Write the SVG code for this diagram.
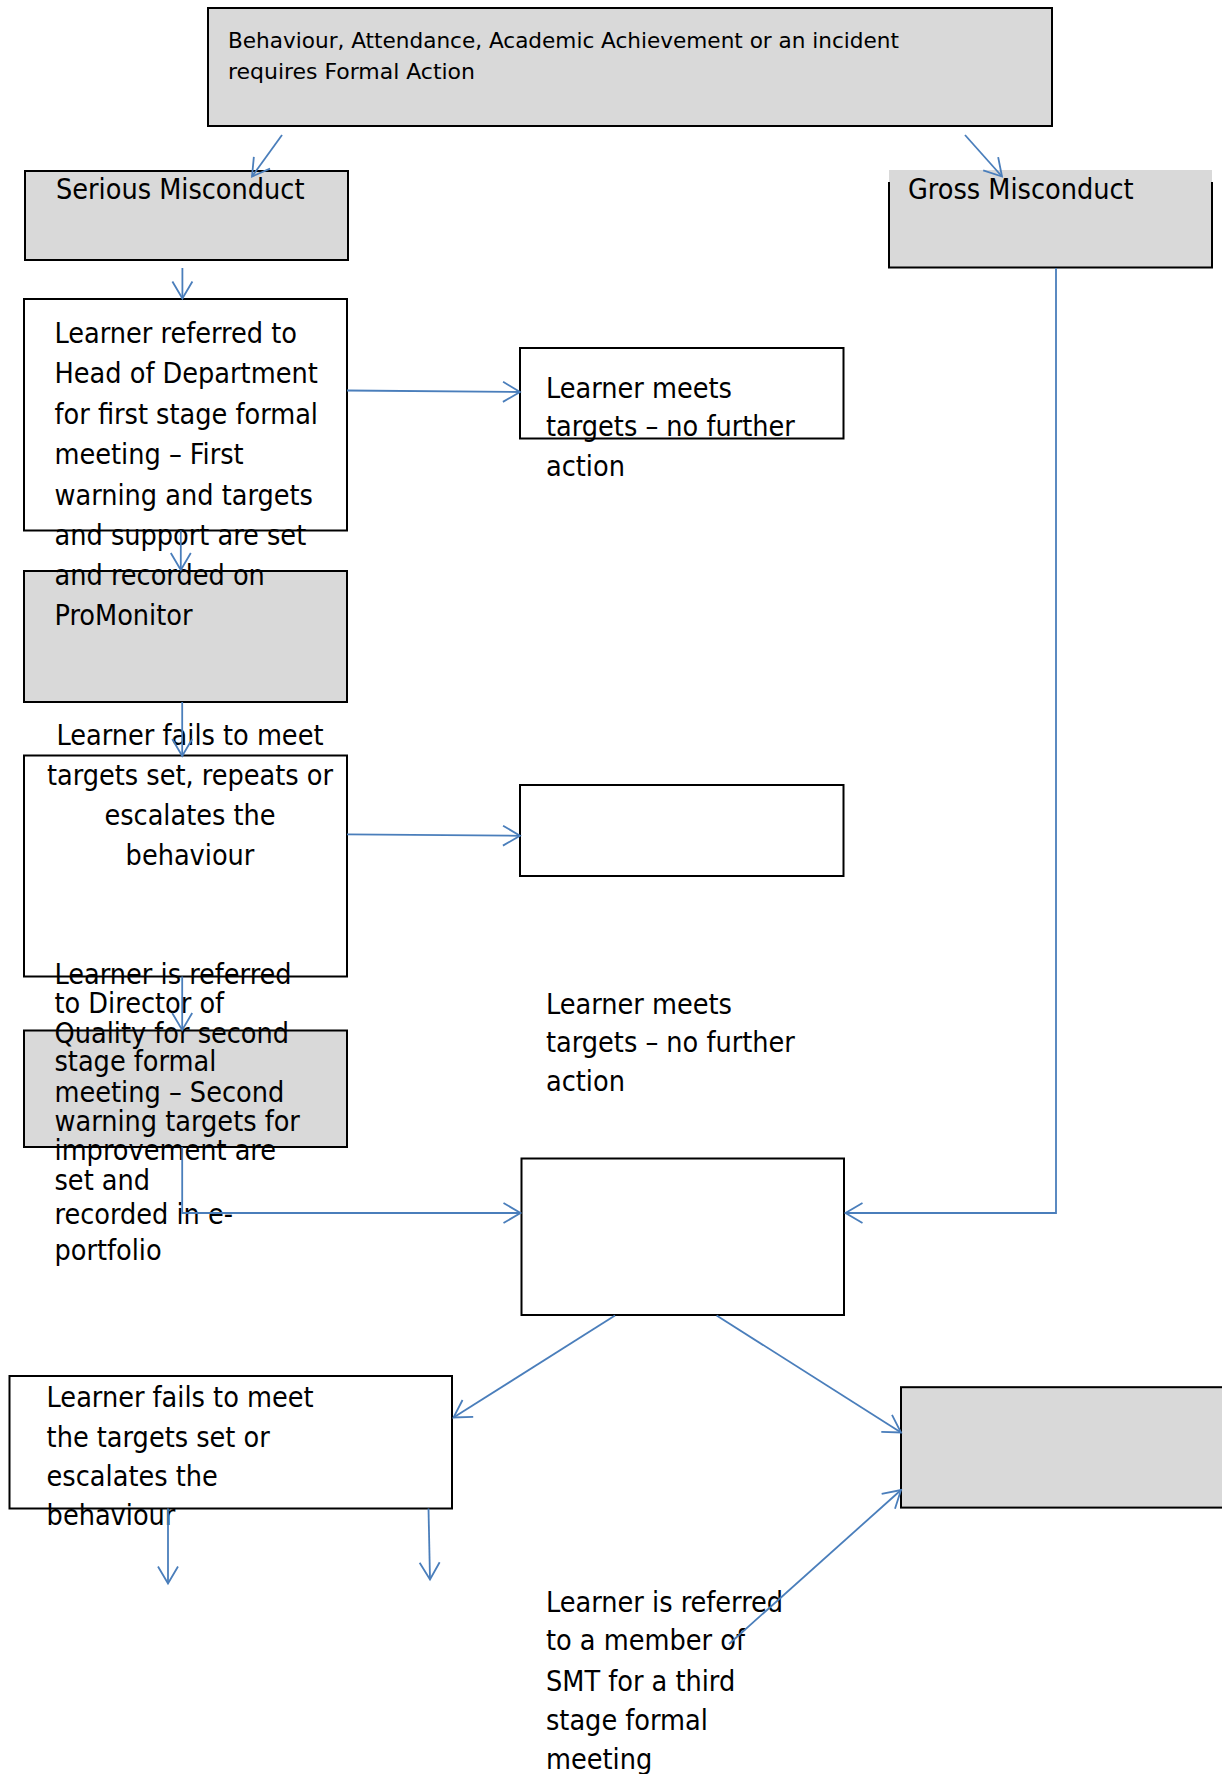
<svg xmlns="http://www.w3.org/2000/svg" width="1222" height="1774" viewBox="0 0 1222 1774">
<style>
.box{stroke:#000;stroke-width:2}
.g{fill:#d9d9d9}
.w{fill:#fff}
.t{font-family:"DejaVu Sans Condensed","DejaVu Sans",sans-serif;font-stretch:condensed;font-size:28.5px;fill:#000}
.s{font-size:22px}
.c{stroke:#4a7ebb;stroke-width:1.8;fill:none}
.a{marker-end:url(#ah)}
</style>
<defs>
<marker id="ah" markerUnits="userSpaceOnUse" markerWidth="40" markerHeight="40" viewBox="-20 -20 40 40" refX="0" refY="0" orient="auto" overflow="visible">
<path d="M-17,-10 L0,0 L-17,10" fill="none" stroke="#4a7ebb" stroke-width="1.8"/>
</marker>
</defs>
<rect width="1222" height="1774" fill="#fff"/>

<g id="n-top">
<rect class="box g" x="208" y="8" width="844" height="118"/>
<text class="t s" x="228" y="48" textLength="671" lengthAdjust="spacingAndGlyphs">Behaviour, Attendance, Academic Achievement or an incident</text>
<text class="t s" x="228" y="79" textLength="247" lengthAdjust="spacingAndGlyphs">requires Formal Action</text>
</g>

<g id="n-serious">
<rect class="box g" x="25" y="171" width="323" height="89" stroke-width="3"/>
<text class="t" x="56" y="199">Serious Misconduct</text>
</g>

<g id="n-gross">
<rect class="g" x="889" y="170" width="323" height="98"/>
<path class="box" fill="none" d="M889,182 V267.5 H1212 V182"/>
<text class="t" x="908" y="199">Gross Misconduct</text>
</g>

<g id="n-stage1">
<rect class="box w" x="24" y="299" width="323" height="231.5"/>
</g>

<g id="n-promonitor">
<rect class="box g" x="24" y="571" width="323" height="131"/>
</g>

<g id="n-stage1-text">
<text class="t" x="54.5" y="343">Learner referred to</text>
<text class="t" x="54.5" y="383.3">Head of Department</text>
<text class="t" x="54.5" y="424">for first stage formal</text>
<text class="t" x="54.5" y="464.3">meeting – First</text>
<text class="t" x="54.5" y="505">warning and targets</text>
<text class="t" x="54.5" y="545">and support are set</text>
<text class="t" x="54.5" y="585">and recorded on</text>
<text class="t" x="54.5" y="625">ProMonitor</text>
</g>

<g id="n-meets1">
<rect class="box w" x="520" y="348" width="323.5" height="90.5"/>
<text class="t" x="546" y="397.6">Learner meets</text>
<text class="t" x="546" y="436.4">targets – no further</text>
<text class="t" x="546" y="475.5">action</text>
</g>

<g id="n-fails1">
<rect class="box w" x="24" y="755.5" width="323" height="221"/>
<text class="t" x="190" y="744.5" text-anchor="middle">Learner fails to meet</text>
<text class="t" x="190" y="785" text-anchor="middle">targets set, repeats or</text>
<text class="t" x="190" y="824.8" text-anchor="middle">escalates the</text>
<text class="t" x="190" y="864.5" text-anchor="middle">behaviour</text>
</g>

<g id="n-empty1">
<rect class="box w" x="520" y="785" width="323.5" height="91"/>
</g>

<g id="n-meets2">
<text class="t" x="546" y="1013.7">Learner meets</text>
<text class="t" x="546" y="1051.7">targets – no further</text>
<text class="t" x="546" y="1091.3">action</text>
</g>

<g id="n-stage2">
<rect class="box g" x="24" y="1030.5" width="323" height="116.5"/>
<text class="t" x="54.5" y="983.5">Learner is referred</text>
<text class="t" x="54.5" y="1013.4">to Director of</text>
<text class="t" x="54.5" y="1042.5">Quality for second</text>
<text class="t" x="54.5" y="1071.1">stage formal</text>
<text class="t" x="54.5" y="1101.6">meeting – Second</text>
<text class="t" x="54.5" y="1130.6">warning targets for</text>
<text class="t" x="54.5" y="1159.7">improvement are</text>
<text class="t" x="54.5" y="1189.8">set and</text>
<text class="t" x="54.5" y="1224">recorded in e-</text>
<text class="t" x="54.5" y="1259.6">portfolio</text>
</g>

<g id="n-center">
<rect class="box w" x="521.5" y="1158.5" width="322.5" height="156.5"/>
</g>

<g id="n-fails2">
<rect class="box w" x="9.5" y="1376" width="442.5" height="132.5"/>
<text class="t" x="46.6" y="1406.8">Learner fails to meet</text>
<text class="t" x="46.6" y="1446.6">the targets set or</text>
<text class="t" x="46.6" y="1486.4">escalates the</text>
<text class="t" x="46.6" y="1525.4">behaviour</text>
</g>

<g id="n-smt">
<rect class="box g" x="901" y="1387.2" width="330" height="120.4"/>
<text class="t" x="546" y="1611.6">Learner is referred</text>
<text class="t" x="546" y="1650.3">to a member of</text>
<text class="t" x="546" y="1691">SMT for a third</text>
<text class="t" x="546" y="1730">stage formal</text>
<text class="t" x="546" y="1768.7">meeting</text>
</g>

<g id="connectors">
<line class="c a" x1="282" y1="135" x2="252" y2="176.5"/>
<line class="c a" x1="965" y1="135" x2="1002" y2="176.5"/>
<line class="c a" x1="182.4" y1="268" x2="182.4" y2="298.5"/>
<line class="c a" x1="347" y1="390.5" x2="520" y2="392"/>
<line class="c a" x1="180.8" y1="530.5" x2="180.8" y2="570"/>
<line class="c a" x1="182.2" y1="702" x2="182.2" y2="756"/>
<line class="c a" x1="347" y1="834.3" x2="520" y2="835.8"/>
<line class="c a" x1="182.2" y1="976.5" x2="182.2" y2="1030"/>
<path class="c a" d="M182.2,1147 V1213 H520.5"/>
<path class="c a" d="M1056,268 V1213 H845.5"/>
<line class="c a" x1="615" y1="1315.5" x2="453.5" y2="1417.5"/>
<line class="c a" x1="716.6" y1="1315.5" x2="901" y2="1432.5"/>
<line class="c a" x1="729" y1="1644" x2="901" y2="1490"/>
<line class="c a" x1="168" y1="1508.5" x2="168" y2="1583.5"/>
<line class="c a" x1="428.5" y1="1508.5" x2="430" y2="1579.5"/>
</g>
</svg>
